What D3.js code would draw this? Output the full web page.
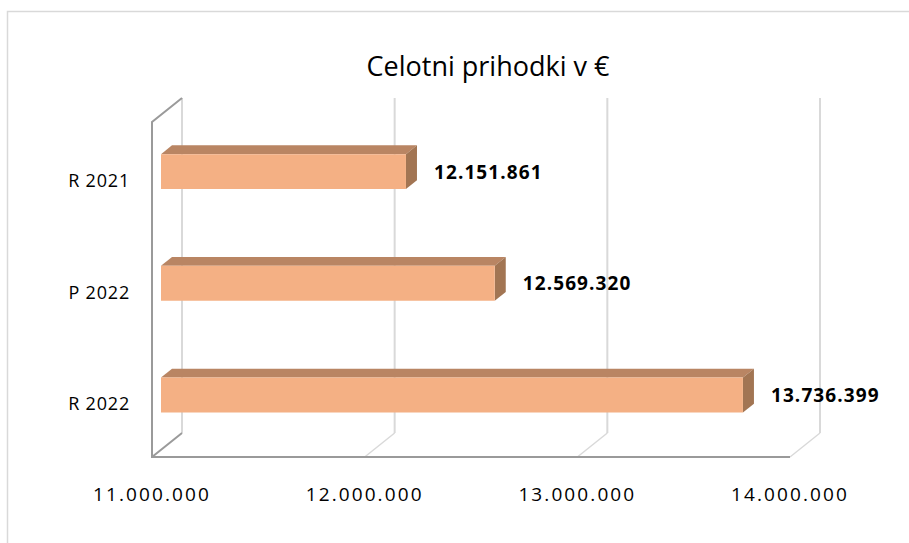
<!DOCTYPE html>
<html>
<head>
<meta charset="utf-8">
<script src="https://cdn.jsdelivr.net/npm/d3@7"></script>
<style>
  html, body { margin: 0; padding: 0; background: #ffffff; }
  svg { display: block; }
</style>
</head>
<body>
<svg id="chart" width="909" height="543"></svg>
<script>
// ---- data ----
const categories = ["R 2021", "P 2022", "R 2022"];
const values = [12151861, 12569320, 13736399];
const tickValues = [11000000, 12000000, 13000000, 14000000];
const tickLabels = ["11.000.000", "12.000.000", "13.000.000", "14.000.000"];
const valueLabels = ["12.151.861", "12.569.320", "13.736.399"];
const title = "Celotni prihodki v €";

// ---- layout ----
const W = 909, H = 543;
const front = { left: 152, right: 790, top: 122, bottom: 457 };
const DX = 30, DY = -24;          // full depth offset
const zFront = 0.3, zBack = 0.667; // bar depth fractions

const svg = d3.select("#chart");

// outer frame
svg.append("rect")
  .attr("x", 7.5).attr("y", 11.5)
  .attr("width", W + 20).attr("height", H + 20)
  .attr("fill", "none").attr("stroke", "#d9d9d9").attr("stroke-width", 1.5);

const x = d3.scaleLinear()
  .domain([tickValues[0], tickValues[tickValues.length - 1]])
  .range([front.left, front.right]);

const y = d3.scaleBand()
  .domain(categories)
  .range([front.top, front.bottom])
  .paddingInner(0.687)
  .paddingOuter(0.687 / 2);

const P = (px, py, z) => [px + DX * z, py + DY * z];
const line = d3.line();

const grid = svg.append("g");
// back wall gridlines and floor diagonals
tickValues.forEach((t, i) => {
  const bx = x(t);
  const top = P(bx, front.top, 1), bot = P(bx, front.bottom, 1), fr = P(bx, front.bottom, 0);
  grid.append("path")
    .attr("d", line([top, bot]))
    .attr("stroke", "#d9d9d9").attr("stroke-width", 2).attr("fill", "none");
  grid.append("path")
    .attr("d", line([bot, fr]))
    .attr("stroke", i === 0 ? "#9a9a9a" : "#d9d9d9").attr("stroke-width", i === 0 ? 2 : 1.5).attr("fill", "none");
});
// left wall front edge and top diagonal
grid.append("path")
  .attr("d", line([P(front.left, front.top, 1), P(front.left, front.top, 0), P(front.left, front.bottom, 0), [front.right, front.bottom]]))
  .attr("stroke", "#9a9a9a").attr("stroke-width", 2).attr("fill", "none");

// ---- bars ----
const bars = svg.append("g");
categories.forEach((c, i) => {
  const x0 = x(tickValues[0]), x1 = x(values[i]);
  const y0 = y(c) + 1, y1 = y(c) + y.bandwidth() + 1;
  const fTL = P(x0, y0, zFront), fTR = P(x1, y0, zFront), fBR = P(x1, y1, zFront), fBL = P(x0, y1, zFront);
  const bTL = P(x0, y0, zBack), bTR = P(x1, y0, zBack), bBR = P(x1, y1, zBack);
  // top face
  bars.append("path").attr("d", line([fTL, fTR, bTR, bTL]) + "Z").attr("fill", "#b98563");
  // side face
  bars.append("path").attr("d", line([fTR, bTR, bBR, fBR]) + "Z").attr("fill", "#a27553");
  // front face
  bars.append("path").attr("d", line([fTL, fTR, fBR, fBL]) + "Z").attr("fill", "#f4b084");

  svg.append("text")
    .attr("x", fTR[0] + 28)
    .attr("y", (fTR[1] + fBR[1]) / 2 + 7)
    .attr("font-family", "'Open Sans', sans-serif")
    .attr("font-weight", "bold")
    .attr("font-size", 19)
    .attr("letter-spacing", 1.1)
    .attr("fill", "#000")
    .text(valueLabels[i]);

  // category label
  svg.append("text")
    .attr("x", 130)
    .attr("y", P(0, y(c) + y.bandwidth() / 2, 0)[1] + 9)
    .attr("text-anchor", "end")
    .attr("font-family", "'Open Sans', sans-serif")
    .attr("font-size", 18)
    .attr("letter-spacing", 0.8)
    .attr("fill", "#000")
    .text(c);
});

// ---- tick labels ----
tickValues.forEach((t, i) => {
  svg.append("text")
    .attr("x", x(t))
    .attr("y", 501)
    .attr("text-anchor", "middle")
    .attr("font-family", "'Open Sans', sans-serif")
    .attr("font-size", 19)
    .attr("letter-spacing", 2.1)
    .attr("fill", "#000")
    .text(tickLabels[i]);
});

// ---- title ----
svg.append("text")
  .attr("x", 488).attr("y", 76)
  .attr("text-anchor", "middle")
  .attr("font-family", "'Open Sans', sans-serif")
  .attr("font-size", 27)
  .attr("fill", "#000")
  .text(title);
</script>
</body>
</html>
